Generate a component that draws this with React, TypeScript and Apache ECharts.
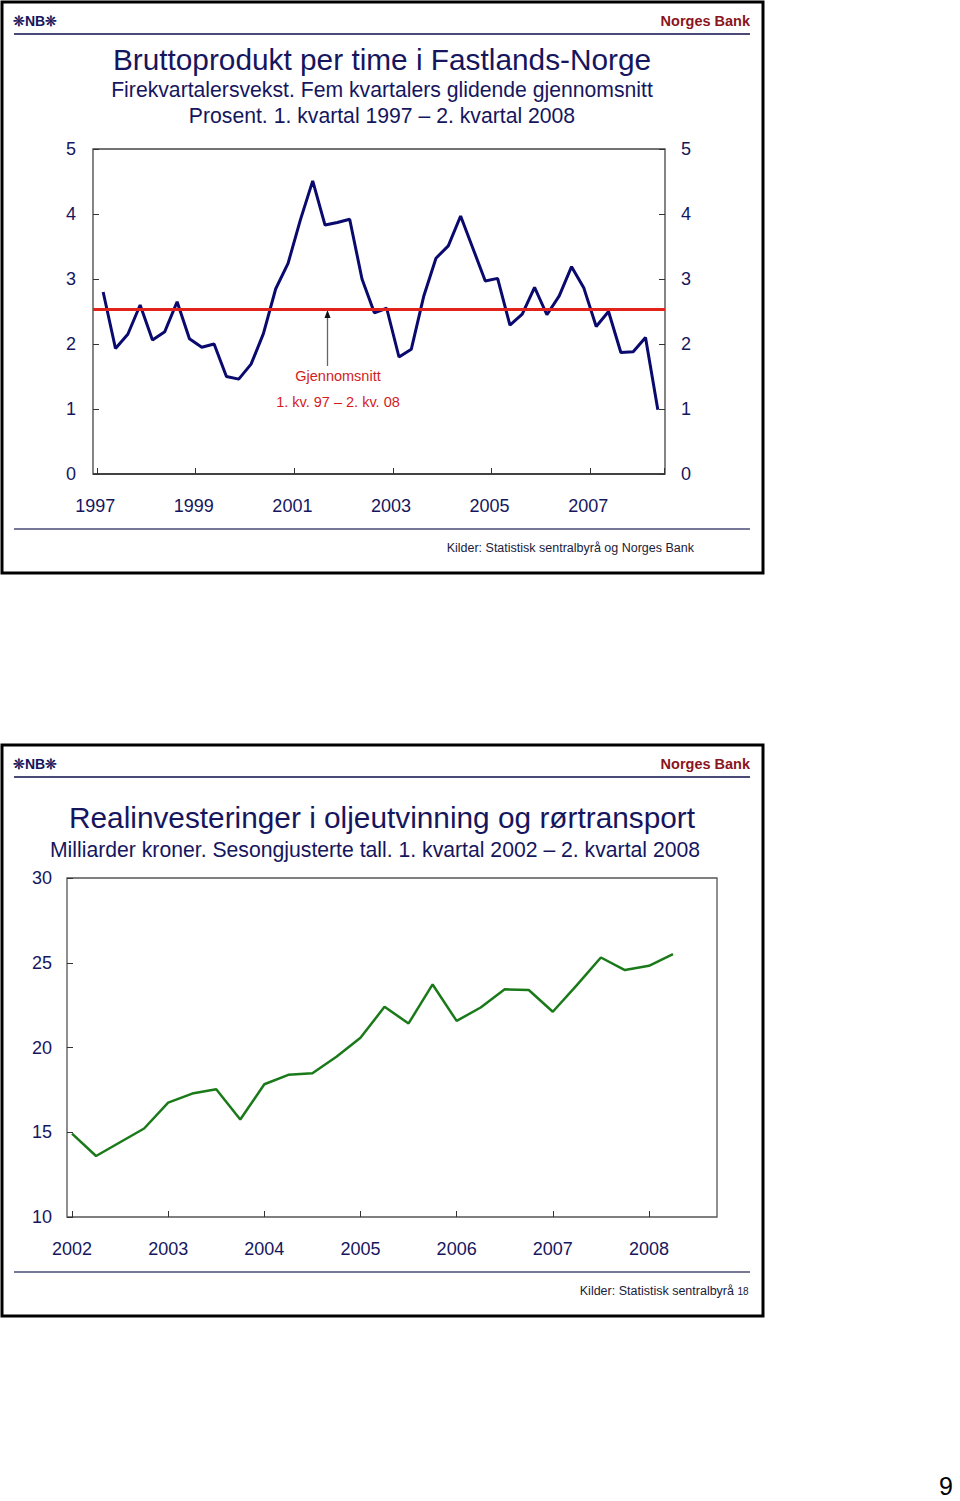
import React, { useEffect, useRef } from "react";
import * as echarts from "echarts";

// ---------- Data ----------
const prodYears = [1997, 1998, 1999, 2000, 2001, 2002, 2003, 2004, 2005, 2006, 2007, 2008];
const prodCategories: string[] = [];
prodYears.forEach((y) => {
  for (let q = 1; q <= 4; q++) {
    if (y === 2008 && q > 2) break;
    prodCategories.push(`${y} K${q}`);
  }
});
// Bruttoprodukt per time, Fastlands-Norge, 4-kv vekst, 5 kv glidende snitt (prosent)
const prodValues = [
  2.8, 1.93, 2.15, 2.6, 2.06, 2.19, 2.65, 2.08, 1.95, 2.0,
  1.5, 1.46, 1.69, 2.16, 2.85, 3.24, 3.91, 4.51, 3.83, 3.87,
  3.92, 3.0, 2.48, 2.55, 1.8, 1.92, 2.73, 3.32, 3.51, 3.97,
  3.47, 2.97, 3.01, 2.29, 2.46, 2.87, 2.45, 2.74, 3.19, 2.86,
  2.27, 2.5, 1.87, 1.88, 2.1, 0.99,
];
const prodAverage = 2.53;
const prodYTicks = { min: 0, max: 5, interval: 1 };

const invYears = [2002, 2003, 2004, 2005, 2006, 2007, 2008];
const invCategories: string[] = [];
invYears.forEach((y) => {
  for (let q = 1; q <= 4; q++) {
    if (y === 2008 && q > 2) break;
    invCategories.push(`${y} K${q}`);
  }
});
// Realinvesteringer i oljeutvinning og rørtransport, mrd. kr, sesongjustert
const invValues = [
  14.92, 13.6, 14.41, 15.22, 16.75, 17.28, 17.54, 15.75, 17.83, 18.39,
  18.48, 19.45, 20.57, 22.4, 21.42, 23.72, 21.57, 22.36, 23.43, 23.39,
  22.11, 23.68, 25.31, 24.57, 24.82, 25.51,
];
const invYTicks = { min: 10, max: 30, interval: 5 };

// ---------- Texts ----------
const topTitle = "Bruttoprodukt per time i Fastlands-Norge";
const topSub1 = "Firekvartalersvekst. Fem kvartalers glidende gjennomsnitt";
const topSub2 = "Prosent. 1. kvartal 1997 \u2013 2. kvartal 2008";
const avgLabel1 = "Gjennomsnitt";
const avgLabel2 = "1. kv. 97 \u2013 2. kv. 08";
const topSource = "Kilder: Statistisk sentralbyr\u00e5 og Norges Bank";
const botTitle = "Realinvesteringer i oljeutvinning og r\u00f8rtransport";
const botSub = "Milliarder kroner. Sesongjusterte tall. 1. kvartal 2002 \u2013 2. kvartal 2008";
const botSource = "Kilder: Statistisk sentralbyr\u00e5";
const slideNo = "18";
const pageNo = "9";
const bankName = "Norges Bank";
const logoText = "\u274aNB\u274a";

const FONT = "'Liberation Sans', Arial, Helvetica, sans-serif";
const NAVY = "#16165e";
const LINE_NAVY = "#0a0a6e";
const RED = "#e2231c";
const GREEN = "#1a7a1a";
const DARKRED = "#8a1420";

export default function App() {
  const ref = useRef<HTMLDivElement>(null);

  useEffect(() => {
    if (!ref.current) return;
    const chart = echarts.init(ref.current, null, { renderer: "svg" });

    const txt = (
      text: string,
      x: number,
      y: number,
      fontSize: number,
      fill: string,
      align: string = "center",
      fontWeight: string = "normal"
    ) => ({
      type: "text",
      x,
      y,
      silent: true,
      style: {
        text,
        fontSize,
        fill,
        align,
        verticalAlign: "middle",
        fontFamily: FONT,
        fontWeight,
      },
    });

    const panelDecor = (top: number) => [
      {
        type: "rect",
        shape: { x: 2, y: top, width: 761, height: 571 },
        style: { fill: "none", stroke: "#000", lineWidth: 3 },
        silent: true,
      },
      {
        type: "line",
        shape: { x1: 14, y1: top + 32, x2: 750, y2: top + 32 },
        style: { stroke: "#4a4a78", lineWidth: 2 },
        silent: true,
      },
      {
        type: "line",
        shape: { x1: 14, y1: top + 527, x2: 750, y2: top + 527 },
        style: { stroke: "#4a4a78", lineWidth: 1.5 },
        silent: true,
      },
      txt(bankName, 750, top + 19, 14.5, DARKRED, "right", "bold"),
      txt(logoText, 13, top + 19, 14, NAVY, "left", "bold"),
    ];

    const xLabelFmt = (v: string) => v.slice(0, 4);

    chart.setOption({
      animation: false,
      textStyle: { fontFamily: FONT },
      grid: [
        { left: 97, top: 149, width: 567, height: 325 },
        { left: 72, top: 878, width: 601, height: 339 },
      ],
      xAxis: [
        {
          gridIndex: 0,
          type: "category",
          data: prodCategories,
          boundaryGap: true,
          axisLine: { show: false },
          axisTick: {
            show: true,
            inside: true,
            length: 6,
            interval: (i: number) => i % 8 === 0,
            lineStyle: { color: "#333" },
          },
          axisLabel: {
            interval: (i: number) => i % 8 === 0,
            formatter: xLabelFmt,
            color: NAVY,
            fontSize: 18,
            margin: 23,
            padding: [0, 16, 0, 0],
          },
          splitLine: { show: false },
        },
        {
          gridIndex: 1,
          type: "category",
          data: invCategories,
          boundaryGap: false,
          axisLine: { show: false },
          axisTick: {
            show: true,
            inside: true,
            length: 6,
            interval: (i: number) => i % 4 === 0,
            lineStyle: { color: "#333" },
          },
          axisLabel: {
            interval: (i: number) => i % 4 === 0,
            formatter: xLabelFmt,
            color: NAVY,
            fontSize: 18,
            margin: 23,
          },
          splitLine: { show: false },
        },
      ],
      yAxis: [
        {
          gridIndex: 0,
          type: "value",
          position: "left",
          offset: 4,
          ...prodYTicks,
          axisLine: { show: false },
          axisTick: { show: true, inside: true, length: 6, lineStyle: { color: "#333" } },
          axisLabel: { color: NAVY, fontSize: 18, margin: 17 },
          splitLine: { show: false },
        },
        {
          gridIndex: 0,
          type: "value",
          position: "right",
          offset: 1,
          ...prodYTicks,
          axisLine: { show: false },
          axisTick: { show: true, inside: true, length: 6, lineStyle: { color: "#333" } },
          axisLabel: { color: NAVY, fontSize: 18, margin: 16 },
          splitLine: { show: false },
        },
        {
          gridIndex: 1,
          type: "value",
          position: "left",
          offset: 5,
          ...invYTicks,
          axisLine: { show: false },
          axisTick: { show: true, inside: true, length: 6, lineStyle: { color: "#333" } },
          axisLabel: { color: NAVY, fontSize: 18, margin: 15 },
          splitLine: { show: false },
        },
      ],
      series: [
        {
          type: "line",
          xAxisIndex: 0,
          yAxisIndex: 0,
          data: prodValues,
          showSymbol: false,
          lineStyle: { color: LINE_NAVY, width: 3 },
          itemStyle: { color: LINE_NAVY },
          markLine: {
            silent: true,
            symbol: ["none", "none"],
            label: { show: false },
            lineStyle: { color: RED, width: 3, type: "solid" },
            data: [
              [
                { x: 93, yAxis: prodAverage },
                { x: 665, yAxis: prodAverage },
              ],
            ],
          },
        },
        {
          type: "line",
          xAxisIndex: 1,
          yAxisIndex: 2,
          data: invValues,
          showSymbol: false,
          lineStyle: { color: GREEN, width: 2.5 },
          itemStyle: { color: GREEN },
        },
      ],
      graphic: [
        ...panelDecor(2),
        ...panelDecor(745),
        {
          type: "rect",
          shape: { x: 93, y: 149, width: 572, height: 325 },
          style: { fill: "none", stroke: "#444", lineWidth: 1.3 },
          silent: true,
        },
        {
          type: "line",
          shape: { x1: 93, y1: 474, x2: 665, y2: 474 },
          style: { stroke: "#333", lineWidth: 1.5 },
          silent: true,
        },
        txt(topTitle, 382, 59, 29.8, NAVY),
        txt(topSub1, 382, 89, 21.2, NAVY),
        txt(topSub2, 382, 115, 21.2, NAVY),
        {
          type: "line",
          shape: { x1: 327.5, y1: 366, x2: 327.5, y2: 316 },
          style: { stroke: "#666", lineWidth: 1.3 },
          silent: true,
        },
        {
          type: "polygon",
          shape: { points: [[327.5, 310], [324.5, 318], [330.5, 318]] },
          style: { fill: "#111" },
          silent: true,
        },
        txt(avgLabel1, 338, 376, 14.5, "#d41c1c"),
        txt(avgLabel2, 338, 402, 14.5, "#d41c1c"),
        txt(topSource, 694, 548, 12.5, "#20203a", "right"),
        {
          type: "rect",
          shape: { x: 67, y: 878, width: 650, height: 339 },
          style: { fill: "none", stroke: "#555", lineWidth: 1.3 },
          silent: true,
        },
        txt(botTitle, 382, 817, 29.8, NAVY),
        txt(botSub, 375, 849, 21.2, NAVY),
        txt(botSource, 734, 1291, 12.5, "#20203a", "right"),
        txt(slideNo, 743, 1291, 10, "#20203a"),
        txt(pageNo, 946, 1486, 25, "#000"),
      ],
    });

    return () => chart.dispose();
  }, []);

  return (
    <div
      ref={ref}
      style={{ position: "absolute", left: 0, top: 0, width: 960, height: 1501 }}
    />
  );
}
